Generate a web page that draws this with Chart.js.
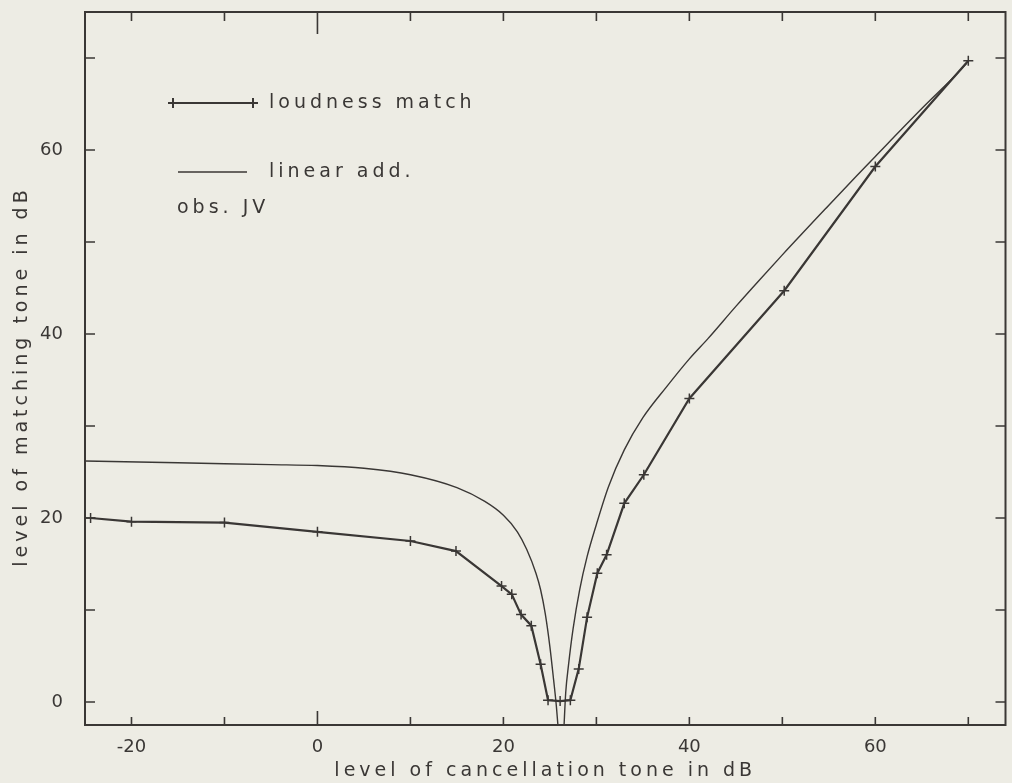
<!DOCTYPE html>
<html>
<head>
<meta charset="utf-8">
<script src="https://cdn.jsdelivr.net/npm/chart.js@4"></script>
<style>
  html, body { margin: 0; padding: 0; background: #edece4; }
  #wrap { width: 1012px; height: 783px; }
</style>
</head>
<body>
<div id="wrap"><canvas id="lineChart"></canvas></div>
<script>
// loudness match (obs. JV)
const lmX = [-24.4, -20, -10, 0, 10, 14.9, 19.8, 20.9, 21.9, 23, 24, 24.8, 26.1, 27.2, 28.1, 29, 30.1, 31.1, 33, 35.1, 40, 50.2, 60, 70];
const lmY = [20.0, 19.6, 19.5, 18.5, 17.5, 16.4, 12.6, 11.7, 9.5, 8.3, 4.1, 0.2, 0.1, 0.2, 3.6, 9.2, 14.0, 16.0, 21.6, 24.7, 33.0, 44.7, 58.2, 69.7];

// linear addition curve (two branches either side of the dip)
const linX = [-25, -15, -5, 0, 5, 10, 15, 18, 20, 21.5, 22.5, 23.5, 24.0, 24.5, 25.0, 25.4, 25.7, 25.9, 26.2,
              26.5, 26.7, 27.0, 27.5, 28.2, 29.0, 30.0, 31.3, 33.0, 35.0, 37.5, 40, 42, 45, 47.3, 50, 55, 58, 60, 65, 68.7, 69.8];
const linY = [26.2, 26.0, 25.8, 25.7, 25.4, 24.7, 23.3, 21.8, 20.3, 18.5, 16.6, 14.0, 12.2, 9.6, 6.0, 2.4, -0.5, -3, null,
              -3, 1.0, 4.0, 8.0, 12.2, 15.8, 19.3, 23.4, 27.4, 30.9, 34.2, 37.3, 39.5, 43.0, 45.6, 48.6, 54.0, 57.2, 59.3, 64.5, 68.2, 69.4];

const xTicks = [-20, -10, 0, 10, 20, 30, 40, 50, 60, 70];
const yTicks = [0, 10, 20, 30, 40, 50, 60, 70];
const xLabels = [-20, 0, 20, 40, 60];
const yLabels = [0, 20, 40, 60];

const ink = '#3a3735';
const font = { family: 'DejaVu Sans', size: 18 };

const paper = {
  id: 'paper',
  beforeDraw(chart) {
    const ctx = chart.ctx;
    ctx.save();
    ctx.fillStyle = '#edece4';
    ctx.fillRect(0, 0, chart.width, chart.height);
    ctx.restore();
  }
};

const frameAndLegend = {
  id: 'frameAndLegend',
  afterDatasetsDraw(chart) {
    const { ctx, chartArea: a, scales: { x, y } } = chart;
    ctx.save();
    ctx.strokeStyle = ink;
    ctx.lineWidth = 2;
    ctx.strokeRect(a.left, a.top, a.right - a.left, a.bottom - a.top);

    ctx.lineWidth = 1.6;
    ctx.beginPath();
    xTicks.forEach(v => {
      const px = x.getPixelForValue(v);
      const bl = v === 0 ? 14 : 8, tl = v === 0 ? 22 : 9;
      ctx.moveTo(px, a.bottom); ctx.lineTo(px, a.bottom - bl);
      ctx.moveTo(px, a.top); ctx.lineTo(px, a.top + tl);
    });
    yTicks.forEach(v => {
      const py = y.getPixelForValue(v);
      ctx.moveTo(a.left, py); ctx.lineTo(a.left + 10, py);
      ctx.moveTo(a.right, py); ctx.lineTo(a.right - 10, py);
    });
    ctx.stroke();

    // legend inside the plot
    const lx = a.left + 88, ly1 = a.top + 91, ly2 = a.top + 160;
    ctx.lineWidth = 2;
    ctx.beginPath();
    ctx.moveTo(lx, ly1); ctx.lineTo(lx + 80, ly1);
    [lx, lx + 80].forEach(cx => {
      ctx.moveTo(cx - 5, ly1); ctx.lineTo(cx + 5, ly1);
      ctx.moveTo(cx, ly1 - 5); ctx.lineTo(cx, ly1 + 5);
    });
    ctx.stroke();
    ctx.lineWidth = 1.4;
    ctx.beginPath();
    ctx.moveTo(lx + 5, ly2); ctx.lineTo(lx + 74, ly2);
    ctx.stroke();

    ctx.fillStyle = ink;
    ctx.font = '19px "DejaVu Sans"';
    ctx.letterSpacing = '4px';
    ctx.textBaseline = 'middle';
    ctx.fillText('loudness match', lx + 96, ly1);
    ctx.fillText('linear add.', lx + 96, ly2);
    ctx.fillText('obs. JV', lx + 4, ly2 + 36);

    // axis titles
    ctx.textAlign = 'center';
    ctx.fillText('level of cancellation tone in dB', (a.left + a.right) / 2, chart.height - 12);
    ctx.translate(22, (a.top + a.bottom) / 2 + 8);
    ctx.rotate(-Math.PI / 2);
    ctx.fillText('level of matching tone in dB', 0, 0);
    ctx.restore();
  }
};

const ctx = document.getElementById('lineChart').getContext('2d');
const lineChart = new Chart(ctx, {
  type: 'line',
  data: {
    datasets: [{
      label: 'loudness match',
      data: lmX.map((v, i) => ({ x: v, y: lmY[i] })),
      borderColor: ink,
      borderWidth: 2.2,
      pointStyle: 'cross',
      pointRadius: 5,
      pointBorderWidth: 1.5,
      pointBorderColor: ink,
      tension: 0,
    }, {
      label: 'linear add.',
      data: linX.map((v, i) => ({ x: v, y: linY[i] })),
      borderColor: ink,
      borderWidth: 1.4,
      pointRadius: 0,
      cubicInterpolationMode: 'monotone',
      spanGaps: false,
    }]
  },
  options: {
    responsive: true,
    maintainAspectRatio: false,
    animation: false,
    layout: { padding: { top: 12, right: -2, left: 0, bottom: 0 } },
    scales: {
      x: {
        type: 'linear',
        min: -25,
        max: 74,
        afterBuildTicks: s => { s.ticks = xLabels.map(v => ({ value: v })); },
        afterFit: s => { s.height = 58; s.paddingLeft = 0; s.paddingRight = 0; },
        grid: { display: false, drawTicks: false },
        border: { display: false },
        ticks: { color: ink, font: font, padding: 12, maxRotation: 0 }
      },
      y: {
        type: 'linear',
        min: -2.5,
        max: 75,
        afterBuildTicks: s => { s.ticks = yLabels.map(v => ({ value: v })); },
        afterFit: s => { s.width = 85; s.paddingTop = 0; s.paddingBottom = 0; },
        grid: { display: false, drawTicks: false },
        border: { display: false },
        ticks: { color: ink, font: font, padding: 22 }
      }
    },
    plugins: {
      legend: { display: false },
      tooltip: { enabled: false }
    }
  },
  plugins: [paper, frameAndLegend]
});
</script>
</body>
</html>
